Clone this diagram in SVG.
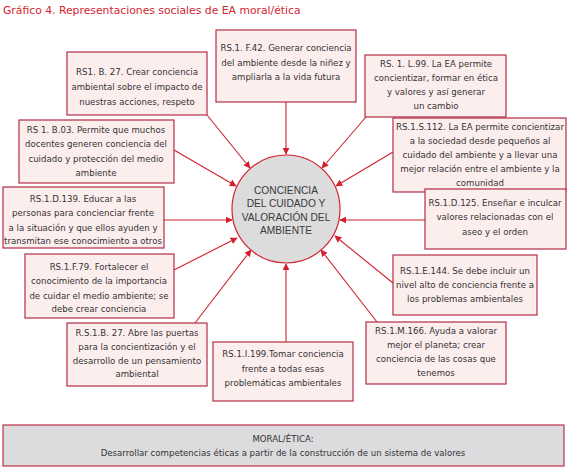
<svg xmlns="http://www.w3.org/2000/svg" width="567" height="469" viewBox="0 0 567 469">
<defs>
<marker id="ah" viewBox="0 0 10 10" refX="9" refY="5" markerWidth="7" markerHeight="7" markerUnits="userSpaceOnUse" orient="auto">
<path d="M0,0 L10,5 L0,10 z" fill="#d3202f"/>
</marker>
<style>
.box{fill:#fdeeee;stroke:#b22d45;stroke-width:1.2}
.t{font-family:"DejaVu Sans","Liberation Sans",sans-serif;font-size:8.6px;fill:#333;text-anchor:middle}
.c{font-family:"Liberation Sans",Arial,sans-serif;font-size:10.2px;fill:#3a3a3a;text-anchor:middle}
.ln{stroke:#d3202f;stroke-width:1.1;fill:none;marker-end:url(#ah)}
</style>
</defs>
<rect width="567" height="469" fill="#fff"/>
<text x="3" y="14" style="font-family:'DejaVu Sans','Liberation Sans',sans-serif;font-size:10.8px;fill:#d22630">Gráfico 4. Representaciones sociales de EA moral/ética</text>

<g id="connectors">
<line class="ln" x1="286" y1="102" x2="286" y2="154"/>
<line class="ln" x1="207" y1="115" x2="250" y2="168"/>
<line class="ln" x1="366" y1="117" x2="322" y2="168"/>
<line class="ln" x1="174" y1="150" x2="236" y2="186"/>
<line class="ln" x1="393" y1="152" x2="336" y2="186"/>
<line class="ln" x1="164" y1="220" x2="232" y2="220"/>
<line class="ln" x1="425" y1="220" x2="340" y2="220"/>
<line class="ln" x1="174" y1="270" x2="237" y2="238"/>
<line class="ln" x1="393" y1="283" x2="335" y2="236"/>
<line class="ln" x1="195" y1="323" x2="251" y2="250"/>
<line class="ln" x1="377" y1="322" x2="321" y2="250"/>
<line class="ln" x1="286" y1="342" x2="286" y2="264"/>
</g>

<g id="center">
<circle cx="286" cy="209" r="54" fill="#dcdcdd" stroke="#d3202f" stroke-width="1.2"/>
<text class="c" x="286" y="194">CONCIENCIA</text>
<text class="c" x="286" y="207">DEL CUIDADO Y</text>
<text class="c" x="286" y="221">VALORACIÓN DEL</text>
<text class="c" x="286" y="234">AMBIENTE</text>
</g>

<g id="n-f42">
<rect class="box" x="216" y="30" width="140" height="72"/>
<text class="t" x="286" y="51">RS.1. F.42. Generar conciencia</text>
<text class="t" x="286" y="66">del ambiente desde la niñez y</text>
<text class="t" x="286" y="80">ampliarla a la vida futura</text>
</g>

<g id="n-b27">
<rect class="box" x="67" y="52" width="140" height="63"/>
<text class="t" x="137" y="75">RS1. B. 27. Crear conciencia</text>
<text class="t" x="137" y="90">ambiental sobre el impacto de</text>
<text class="t" x="137" y="105">nuestras acciones, respeto</text>
</g>

<g id="n-l99">
<rect class="box" x="365" y="55" width="141" height="62"/>
<text class="t" x="436" y="67">RS. 1. L.99. La EA permite</text>
<text class="t" x="436" y="81">concientizar, formar en ética</text>
<text class="t" x="436" y="95">y valores y así generar</text>
<text class="t" x="436" y="109">un cambio</text>
</g>

<g id="n-b03">
<rect class="box" x="19" y="120" width="155" height="63"/>
<text class="t" x="96" y="133">RS 1. B.03. Permite que muchos</text>
<text class="t" x="96" y="147">docentes generen conciencia del</text>
<text class="t" x="96" y="162">cuidado y protección del medio</text>
<text class="t" x="96" y="176">ambiente</text>
</g>

<g id="n-s112">
<rect class="box" x="393" y="118" width="173" height="74"/>
<text class="t" x="480" y="130">RS.1.S.112. La EA permite concientizar</text>
<text class="t" x="480" y="144">a la sociedad desde pequeños al</text>
<text class="t" x="480" y="158">cuidado del ambiente y a llevar una</text>
<text class="t" x="480" y="172">mejor relación entre el ambiente y la</text>
<text class="t" x="480" y="186">comunidad</text>
</g>

<g id="n-d139">
<rect class="box" x="3" y="187" width="161" height="61"/>
<text class="t" x="83" y="202">RS.1.D.139. Educar a las</text>
<text class="t" x="83" y="216">personas para concienciar frente</text>
<text class="t" x="83" y="231">a la situación y que ellos ayuden y</text>
<text class="t" x="83" y="244">transmitan ese conocimiento a otros</text>
</g>

<g id="n-d125">
<rect class="box" x="425" y="189" width="141" height="60"/>
<text class="t" x="495" y="206">RS.1.D.125. Enseñar e inculcar</text>
<text class="t" x="495" y="220">valores relacionadas con el</text>
<text class="t" x="495" y="235">aseo y el orden</text>
</g>

<g id="n-f79">
<rect class="box" x="25" y="254" width="149" height="64"/>
<text class="t" x="99" y="270">RS.1.F.79. Fortalecer el</text>
<text class="t" x="99" y="284">conocimiento de la importancia</text>
<text class="t" x="99" y="299">de cuidar el medio ambiente; se</text>
<text class="t" x="99" y="312">debe crear conciencia</text>
</g>

<g id="n-e144">
<rect class="box" x="393" y="255" width="144" height="60"/>
<text class="t" x="465" y="274">RS.1.E.144. Se debe incluir un</text>
<text class="t" x="465" y="288">nivel alto de conciencia frente a</text>
<text class="t" x="465" y="302">los problemas ambientales</text>
</g>

<g id="n-rsb27">
<rect class="box" x="67" y="323" width="140" height="63"/>
<text class="t" x="137" y="336">R.S.1.B. 27. Abre las puertas</text>
<text class="t" x="137" y="350">para la concientización y el</text>
<text class="t" x="137" y="364">desarrollo de un pensamiento</text>
<text class="t" x="137" y="377">ambiental</text>
</g>

<g id="n-i199">
<rect class="box" x="213" y="342" width="140" height="59"/>
<text class="t" x="283" y="357">RS.1.I.199.Tomar conciencia</text>
<text class="t" x="283" y="372">frente a todas esas</text>
<text class="t" x="283" y="386">problemáticas ambientales</text>
</g>

<g id="n-m166">
<rect class="box" x="366" y="322" width="140" height="62"/>
<text class="t" x="436" y="334">RS.1.M.166. Ayuda a valorar</text>
<text class="t" x="436" y="348">mejor el planeta; crear</text>
<text class="t" x="436" y="362">conciencia de las cosas que</text>
<text class="t" x="436" y="376">tenemos</text>
</g>

<g id="n-moral">
<rect x="3" y="425" width="561" height="41" fill="#dcdcde" stroke="#c0304a" stroke-width="1.2"/>
<text class="t" x="283" y="442">MORAL/ÉTICA:</text>
<text class="t" x="283" y="456">Desarrollar competencias éticas a partir de la construcción de un sistema de valores</text>
</g>
</svg>
